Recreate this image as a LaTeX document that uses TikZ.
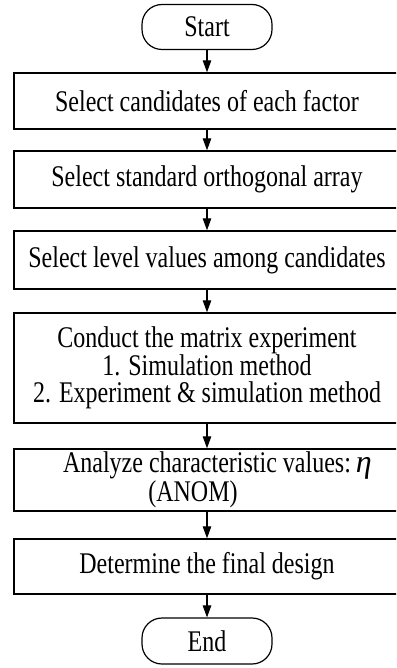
\documentclass[tikz,border=0pt]{standalone}
\usepackage{fontspec}
\setmainfont[FakeStretch=0.8]{Liberation Serif}
\newfontfamily\etafont{Liberation Serif}
\usetikzlibrary{arrows.meta}
\tikzset{
  txt/.style={font=\fontsize{30}{27.5}\selectfont},
  proc/.style={draw, line width=1.4pt, rectangle, minimum width=386pt, inner sep=0pt, align=center, txt},
  term/.style={draw, line width=1.2pt, rectangle, rounded corners=20pt, minimum width=130pt, minimum height=45pt, inner sep=0pt, txt},
  arr/.style={-{Triangle[length=12pt,width=8.5pt]}, line width=1.1pt}
}
\begin{document}
\begin{tikzpicture}[x=1pt,y=-1pt]
\useasboundingbox (0,0) rectangle (396,668);
\clip (0,0) rectangle (396,668);
\node[term] (start) at (207,27) {Start};
\node[proc, minimum height=56pt] (b1) at (207,101) {Select candidates of each factor};
\node[proc, minimum height=57pt] (b2) at (207,179.5) {Select standard orthogonal array};
\node[proc, minimum height=58pt] (b3) at (207,260) {Select level values among candidates};
\node[proc, minimum height=110pt] (b4) at (207,368) {Conduct the matrix experiment\\1. Simulation method\\2. Experiment \& simulation method};
\node[proc, minimum height=62pt] (b5) at (207,480) {Analyze characteristic values:\rlap{\,{\etafont\itshape\fontsize{32}{27.5}\selectfont η}}\\\hspace*{-28pt}(ANOM)};
\node[proc, minimum height=55pt] (b6) at (207,566.5) {Determine the final design};
\node[term, minimum height=46pt] (end) at (207,641) {End};
\draw[arr] (start) -- (b1);
\draw[arr] (b1) -- (b2);
\draw[arr] (b2) -- (b3);
\draw[arr] (b3) -- (b4);
\draw[arr] (b4) -- (b5);
\draw[arr] (b5) -- (b6);
\draw[arr] (b6) -- (end);
\end{tikzpicture}
\end{document}
